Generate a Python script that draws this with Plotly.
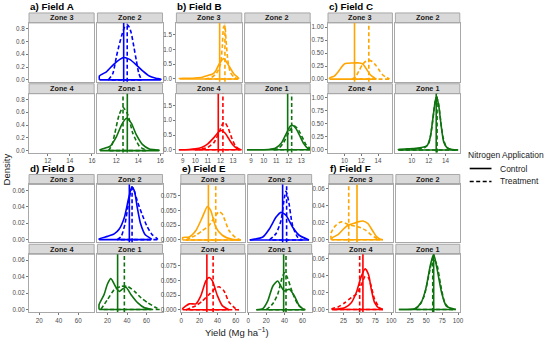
import plotly.graph_objects as go

W, H = 550, 342

# ------------------------------------------------------------------ data
ZONES = ["Zone 3", "Zone 2", "Zone 4", "Zone 1"]          # facet order: TL, TR, BL, BR
ZONE_COLORS = ["#FFA500", "#0000FF", "#FF0000", "#0E720E"]
FIELD_TITLES = ["a) Field A", "b) Field B", "c) Field C", "d) Field D", "e) Field E", "f) Field F"]
LEGEND_TITLE = "Nitrogen Application"
LEGEND_NAMES = ["Control", "Treatment"]

# Field A
A2_C_x = [10.48, 11.14, 11.73, 12.33, 12.68, 13.22, 13.82, 14.4, 15.0, 15.6, 16.05]
A2_C_y = [0.06, 0.13, 0.235, 0.32, 0.35, 0.32, 0.235, 0.14, 0.06, 0.026, 0.01]
A2_T_x = [11.3, 11.7, 12.03, 12.25, 12.48, 12.75, 13.0, 13.2, 13.37, 13.6, 13.82, 14.05, 14.3]
A2_T_y = [0.0, 0.1, 0.37, 0.53, 0.68, 0.82, 0.86, 0.82, 0.73, 0.52, 0.31, 0.1, 0.0]
A1_C_x = [10.54, 11.43, 12.03, 12.48, 12.93, 13.37, 13.82, 14.4, 15.0, 15.9]
A1_C_y = [0.015, 0.067, 0.22, 0.40, 0.506, 0.43, 0.25, 0.093, 0.026, 0.005]
A1_T_x = [11.3, 11.6, 11.88, 12.26, 12.62, 13.07, 13.51, 14.11, 14.71]
A1_T_y = [0.0, 0.08, 0.27, 0.557, 0.676, 0.557, 0.27, 0.067, 0.005]
A_mean_C = [None, 12.68, None, 13.01]
A_mean_T = [None, 13.0, None, 12.62]

# Field B
B3_C_x = [8.74, 9.5, 10.0, 10.56, 11.0, 11.35, 11.6, 11.89, 12.26, 12.68, 13.07, 13.44]
B3_C_y = [0.02, 0.025, 0.035, 0.06, 0.12, 0.16, 0.25, 0.5, 0.69, 0.44, 0.17, 0.03]
B3_T_x = [10.8, 11.3, 11.7, 12.0, 12.15, 12.25, 12.35, 12.45, 12.6, 12.8, 13.1, 13.4]
B3_T_y = [0.0, 0.05, 0.2, 0.5, 1.1, 1.75, 1.82, 1.3, 0.6, 0.22, 0.05, 0.0]
B4_C_x = [8.7, 9.5, 10.0, 10.5, 11.0, 11.5, 11.9, 12.1, 12.4, 12.7, 13.0, 13.3, 13.6]
B4_C_y = [0.0, 0.01, 0.03, 0.08, 0.2, 0.42, 0.62, 0.65, 0.55, 0.35, 0.16, 0.05, 0.01]
B4_T_x = [10.0, 10.5, 11.0, 11.5, 11.9, 12.2, 12.35, 12.6, 12.9, 13.2, 13.5, 13.7]
B4_T_y = [0.0, 0.02, 0.08, 0.25, 0.6, 0.9, 0.93, 0.75, 0.4, 0.12, 0.02, 0.0]
B1_C_x = [8.68, 10.4, 10.93, 11.45, 11.8, 12.12, 12.3, 12.6, 12.9, 13.2, 13.5, 13.7]
B1_C_y = [0.0, 0.01, 0.05, 0.25, 0.55, 0.8, 0.83, 0.7, 0.45, 0.2, 0.05, 0.02]
B1_T_x = [10.8, 11.2, 11.6, 12.0, 12.3, 12.5, 12.8, 13.1, 13.4, 13.7]
B1_T_y = [0.0, 0.05, 0.25, 0.6, 0.78, 0.8, 0.65, 0.4, 0.15, 0.05]
B_mean_C = [11.94, None, 11.83, 11.91]
B_mean_T = [12.36, None, 12.2, 12.23]

# Field C
C3_C_x = [8.24, 8.8, 9.3, 9.8, 10.1, 10.98, 11.8, 12.2, 12.6, 13.1, 13.6, 13.8]
C3_C_y = [0.02, 0.06, 0.15, 0.26, 0.3, 0.31, 0.31, 0.29, 0.2, 0.08, 0.02, 0.0]
C3_T_x = [10.9, 11.3, 11.7, 12.1, 12.5, 12.9, 13.3, 13.7, 14.1, 14.5, 14.9, 15.3]
C3_T_y = [0.0, 0.04, 0.15, 0.27, 0.34, 0.36, 0.34, 0.27, 0.18, 0.09, 0.04, 0.01]
C1_C_x = [8.4, 9.5, 10.5, 11.3, 11.8, 12.2, 12.5, 12.8, 12.95, 13.2, 13.5, 13.8, 14.2, 14.8, 15.5]
C1_C_y = [0.01, 0.02, 0.03, 0.05, 0.08, 0.25, 0.6, 0.95, 1.02, 0.85, 0.45, 0.15, 0.04, 0.01, 0.0]
C1_T_x = [8.4, 9.5, 10.5, 11.5, 12.0, 12.4, 12.7, 12.9, 13.1, 13.4, 13.7, 14.1, 14.6, 15.2]
C1_T_y = [0.0, 0.01, 0.02, 0.04, 0.12, 0.45, 0.85, 1.0, 0.95, 0.6, 0.25, 0.06, 0.01, 0.0]
C_mean_C = [11.2, None, None, 12.9]
C_mean_T = [12.9, None, None, 13.0]

# Field D
D2_C_x = [11.3, 19.9, 26.8, 32.0, 37.2, 41.7, 44.8, 47.6, 50.3, 53.7, 58.6, 64.8]
D2_C_y = [0.0008, 0.004, 0.007, 0.013, 0.027, 0.051, 0.064, 0.059, 0.04, 0.02, 0.006, 0.001]
D2_T_x = [30, 34, 38, 41.5, 44, 46, 48.5, 51, 55.3, 60.5, 65.7, 71]
D2_T_y = [0.0, 0.004, 0.02, 0.045, 0.06, 0.063, 0.055, 0.045, 0.031, 0.016, 0.006, 0.001]
D1_C_x = [11.3, 16.4, 19.9, 23.4, 28.6, 32.0, 35.5, 38.9, 44.1, 51.0, 57.9, 64.8]
D1_C_y = [0.006, 0.018, 0.031, 0.0375, 0.027, 0.022, 0.025, 0.027, 0.018, 0.008, 0.002, 0.0003]
D1_T_x = [13.1, 19.9, 26.8, 33.7, 40.7, 47.6, 54.5, 61.4, 68.3, 73.4]
D1_T_y = [0.0, 0.012, 0.024, 0.028, 0.028, 0.022, 0.014, 0.008, 0.003, 0.0]
D_mean_C = [None, 42.3, None, 30.3]
D_mean_T = [None, 45.1, None, 37.2]

# Field E
E3_C_x = [1.5, 8.8, 16.1, 23.3, 28.8, 32.5, 38.0, 45.2, 56.2, 65.4]
E3_C_y = [0.004, 0.005, 0.016, 0.039, 0.057, 0.05, 0.022, 0.008, 0.001, 0.0]
E3_T_x = [5.2, 16.0, 23.3, 30.7, 38.0, 41.6, 45.2, 52.6, 59.9, 65.4]
E3_T_y = [0.0, 0.008, 0.016, 0.025, 0.042, 0.048, 0.044, 0.016, 0.004, 0.0]
E2_C_x = [1.7, 16.2, 23.5, 30.8, 36.2, 41.7, 48.9, 56.2, 67.1]
E2_C_y = [0.0, 0.005, 0.019, 0.039, 0.047, 0.042, 0.022, 0.008, 0.0]
E2_T_x = [23.5, 30.8, 36.2, 39.9, 41.7, 44.5, 48.9, 54.4, 59.8]
E2_T_y = [0.0, 0.011, 0.033, 0.072, 0.083, 0.067, 0.025, 0.005, 0.0]
E4_C_x = [1.5, 8.8, 16.1, 21.6, 27.1, 30.7, 34.3, 39.8, 45.2, 52.6]
E4_C_y = [0.002, 0.01, 0.01, 0.024, 0.049, 0.055, 0.049, 0.024, 0.007, 0.0]
E4_T_x = [5.2, 16.1, 23.3, 30.7, 38.0, 41.6, 47.1, 52.6, 59.9, 63.5]
E4_T_y = [0.0, 0.007, 0.015, 0.026, 0.037, 0.039, 0.032, 0.013, 0.002, 0.0]
E1_C_x = [9.0, 16.2, 21.6, 27.1, 32.5, 36.2, 39.9, 45.3, 50.8, 56.2, 61.7]
E1_C_y = [0.0, 0.002, 0.015, 0.04, 0.049, 0.04, 0.032, 0.035, 0.024, 0.007, 0.0]
E1_T_x = [19.9, 27.1, 32.5, 37.3, 39.9, 43.4, 48.9, 54.4, 59.8, 63.0]
E1_T_y = [0.0, 0.01, 0.026, 0.054, 0.063, 0.054, 0.029, 0.01, 0.002, 0.0]
E_mean_C = [29.9, 38.0, 28.2, 39.1]
E_mean_T = [38.0, 42.4, 35.1, 41.7]

# Field F
F3_C_x = [7.1, 16.5, 24.3, 32.2, 40, 47.8, 55.6, 63.5, 71.3, 76.5, 81.8, 87]
F3_C_y = [0.002, 0.006, 0.012, 0.017, 0.019, 0.021, 0.022, 0.019, 0.01, 0.004, 0.001, 0.0]
F3_T_x = [5.6, 11.8, 18.1, 22.8, 29, 36.9, 44.7, 52.5, 60.3, 68.2, 76, 82.2]
F3_T_y = [0.008, 0.016, 0.02, 0.021, 0.019, 0.017, 0.016, 0.014, 0.011, 0.006, 0.002, 0.0]
F4_C_x = [7, 16.5, 27, 37.3, 45.2, 53, 59.2, 64.5, 68.7, 74, 81.8, 87]
F4_C_y = [0.0, 0.0005, 0.002, 0.008, 0.02, 0.039, 0.048, 0.041, 0.024, 0.008, 0.001, 0.0]
F4_T_x = [7, 16.5, 27, 37.3, 45.2, 53, 59.2, 64.5, 68.7, 74, 81.8, 87]
F4_T_y = [0.001, 0.003, 0.008, 0.014, 0.018, 0.029, 0.039, 0.037, 0.027, 0.012, 0.002, 0.0]
F1_C_x = [7, 31.9, 41.8, 49.2, 56.7, 61.7, 66.7, 74.1, 81.6, 96.5]
F1_C_y = [0.0, 0.001, 0.008, 0.024, 0.053, 0.065, 0.049, 0.02, 0.004, 0.0]
F1_T_x = [33, 40.2, 46.8, 54.3, 60.7, 66.7, 72.6, 79.1, 86.6, 92]
F1_T_y = [0.0, 0.006, 0.016, 0.041, 0.061, 0.053, 0.029, 0.008, 0.001, 0.0]
F_mean_C = [46.3, None, 55.6, 61.7]
F_mean_T = [33.3, None, 50.5, 60.2]

# tick values / labels
A_xticks = [12, 14, 16]
A_yticks = [0.0, 0.2, 0.4, 0.6, 0.8]
A_ylabels = ["0.0", "0.2", "0.4", "0.6", "0.8"]
B_xticks = [9, 10, 11, 12, 13]
B_yticks = [0.0, 0.5, 1.0, 1.5]
B_ylabels = ["0.0", "0.5", "1.0", "1.5"]
C_xticks = [10, 12, 14]
C_yticks = [0.0, 0.25, 0.5, 0.75, 1.0]
C_ylabels = ["0.00", "0.25", "0.50", "0.75", "1.00"]
D_xticks = [20, 40, 60]
D_yticks = [0.0, 0.02, 0.04, 0.06]
D_ylabels = ["0.00", "0.02", "0.04", "0.06"]
E_xticks = [0, 20, 40, 60]
E_yticks = [0.0, 0.025, 0.05, 0.075]
E_ylabels = ["0.000", "0.025", "0.050", "0.075"]
F_xticks = [25, 50, 75, 100]
F_yticks = [0.0, 0.02, 0.04, 0.06]
F_ylabels = ["0.00", "0.02", "0.04", "0.06"]

# ------------------------------------------------------------------ structure
fields = [
    dict(curves=[None, (A2_C_x, A2_C_y, A2_T_x, A2_T_y), None, (A1_C_x, A1_C_y, A1_T_x, A1_T_y)],
         mc=A_mean_C, mt=A_mean_T, xt=A_xticks, yt=A_yticks, yl=A_ylabels,
         xl=(28.3, 94), xr=(97.3, 163), row=0, xrange=(10.3, 16.2), yrange=(-0.03, 0.89)),
    dict(curves=[(B3_C_x, B3_C_y, B3_T_x, B3_T_y), None, (B4_C_x, B4_C_y, B4_T_x, B4_T_y), (B1_C_x, B1_C_y, B1_T_x, B1_T_y)],
         mc=B_mean_C, mt=B_mean_T, xt=B_xticks, yt=B_yticks, yl=B_ylabels,
         xl=(177, 243), xr=(246, 312), row=0, xrange=(8.5, 13.7), yrange=(-0.095, 1.9)),
    dict(curves=[(C3_C_x, C3_C_y, C3_T_x, C3_T_y), None, None, (C1_C_x, C1_C_y, C1_T_x, C1_T_y)],
         mc=C_mean_C, mt=C_mean_T, xt=C_xticks, yt=C_yticks, yl=C_ylabels,
         xl=(330, 395), xr=(398, 463), row=0, xrange=(8.05, 15.7), yrange=(-0.05, 1.08)),
    dict(curves=[None, (D2_C_x, D2_C_y, D2_T_x, D2_T_y), None, (D1_C_x, D1_C_y, D1_T_x, D1_T_y)],
         mc=D_mean_C, mt=D_mean_T, xt=D_xticks, yt=D_yticks, yl=D_ylabels,
         xl=(28.3, 94), xr=(97.3, 163), row=1, xrange=(9.6, 76.3), yrange=(-0.0032, 0.0672)),
    dict(curves=[(E3_C_x, E3_C_y, E3_T_x, E3_T_y), (E2_C_x, E2_C_y, E2_T_x, E2_T_y),
                 (E4_C_x, E4_C_y, E4_T_x, E4_T_y), (E1_C_x, E1_C_y, E1_T_x, E1_T_y)],
         mc=E_mean_C, mt=E_mean_T, xt=E_xticks, yt=E_yticks, yl=E_ylabels,
         xl=(181.5, 246), xr=(249, 313.5), row=1, xrange=(-0.5, 70), yrange=(-0.004, 0.0945)),
    dict(curves=[(F3_C_x, F3_C_y, F3_T_x, F3_T_y), None, (F4_C_x, F4_C_y, F4_T_x, F4_T_y), (F1_C_x, F1_C_y, F1_T_x, F1_T_y)],
         mc=F_mean_C, mt=F_mean_T, xt=F_xticks, yt=F_yticks, yl=F_ylabels,
         xl=(331, 395.5), xr=(398.5, 463), row=1, xrange=(2.3, 102.7), yrange=(-0.003, 0.065)),
]
rows = [
    dict(strips=[(13, 23), (84, 94)], panels=[(23, 82), (94, 153)], title_y=6.5),
    dict(strips=[(175, 185), (245, 255)], panels=[(185, 243), (255, 313)], title_y=168.5),
]

FONT = "Liberation Sans, Arial, sans-serif"
TICK_FONT = dict(family=FONT, size=6.3, color="#4D4D4D")
BORDER = "#A8A8A8"
LW = 1.6
DASH = "4px,2.5px"

fig = go.Figure()
layout = {}
shapes = []
annotations = []


def outline(xs, ys):
    """closed density outline: vertical edges + baseline (like geom_density)"""
    px = list(xs)
    py = list(ys)
    if py[0] != 0:
        px = [xs[0]] + px
        py = [0] + py
    if py[-1] != 0:
        px = px + [xs[-1]]
        py = py + [0]
    return px + [None, xs[-1], xs[0]], py + [None, 0, 0]


n = 0
for f_i, f in enumerate(fields):
    r = rows[f["row"]]
    for p in range(4):
        n += 1
        sx = "" if n == 1 else str(n)
        col = p % 2
        rr = p // 2
        xpx = f["xl"] if col == 0 else f["xr"]
        ypx = r["panels"][rr]
        spx = r["strips"][rr]
        layout["xaxis" + sx] = dict(
            domain=[xpx[0] / W, xpx[1] / W], range=list(f["xrange"]), anchor="y" + sx,
            showline=True, mirror=True, linecolor=BORDER, linewidth=1,
            showgrid=False, zeroline=False,
            ticks="outside" if rr == 1 else "", ticklen=2, tickcolor="#555555", tickwidth=0.8,
            showticklabels=(rr == 1), tickvals=f["xt"], tickfont=TICK_FONT, fixedrange=True)
        layout["yaxis" + sx] = dict(
            domain=[1 - ypx[1] / H, 1 - ypx[0] / H], range=list(f["yrange"]), anchor="x" + sx,
            showline=True, mirror=True, linecolor=BORDER, linewidth=1,
            showgrid=False, zeroline=False,
            ticks="outside" if col == 0 else "", ticklen=2, tickcolor="#555555", tickwidth=0.8,
            showticklabels=(col == 0), tickvals=f["yt"], ticktext=f["yl"], tickfont=TICK_FONT,
            fixedrange=True)
        # strip
        shapes.append(dict(type="rect", xref="paper", yref="paper",
                           x0=xpx[0] / W, x1=xpx[1] / W, y0=1 - spx[1] / H, y1=1 - spx[0] / H,
                           fillcolor="#D9D9D9", line=dict(color=BORDER, width=1), layer="below"))
        annotations.append(dict(xref="paper", yref="paper", x=(xpx[0] + xpx[1]) / 2 / W,
                                y=1 - (spx[0] + spx[1]) / 2 / H, text="<b>" + ZONES[p] + "</b>",
                                showarrow=False, font=dict(family=FONT, size=7.3, color="#1A1A1A"),
                                xanchor="center", yanchor="middle"))
        cur = f["curves"][p]
        color = ZONE_COLORS[p]
        if cur is None:
            # empty facet: an empty trace so the panel frame and axes are drawn
            fig.add_trace(go.Scatter(x=[None], y=[None], mode="lines", xaxis="x" + sx, yaxis="y" + sx,
                                     showlegend=False, hoverinfo="skip"))
        else:
            cx, cy, tx, ty = cur
            for xs, ys, dash in ((cx, cy, "solid"), (tx, ty, DASH)):
                ox, oy = outline(xs, ys)
                fig.add_trace(go.Scatter(x=ox, y=oy, mode="lines", xaxis="x" + sx, yaxis="y" + sx,
                                         line=dict(color=color, width=LW, dash=dash, shape="spline",
                                                   smoothing=0.6),
                                         showlegend=False, hoverinfo="skip"))
            for m, dash in ((f["mc"][p], "solid"), (f["mt"][p], DASH)):
                if m is not None:
                    shapes.append(dict(type="line", xref="x" + sx, yref="y" + sx + " domain",
                                       x0=m, x1=m, y0=0, y1=1,
                                       line=dict(color=color, width=LW, dash=dash)))
    annotations.append(dict(xref="paper", yref="paper", x=(f["xl"][0] - 1) / W, y=1 - r["title_y"] / H,
                            text="<b>" + FIELD_TITLES[f_i] + "</b>", showarrow=False,
                            font=dict(family=FONT, size=9.8, color="#000000"),
                            xanchor="left", yanchor="middle"))

# legend (drawn as a ggplot-style key)
annotations.append(dict(xref="paper", yref="paper", x=469 / W, y=1 - 155 / H, text=LEGEND_TITLE,
                        showarrow=False, font=dict(family=FONT, size=8.5, color="#1A1A1A"),
                        xanchor="left", yanchor="middle"))
for i, (name, dash) in enumerate(zip(LEGEND_NAMES, ["solid", DASH])):
    ky = 169 + 13 * i
    shapes.append(dict(type="line", xref="paper", yref="paper", x0=473 / W, x1=495 / W,
                       y0=1 - ky / H, y1=1 - ky / H, line=dict(color="#000000", width=LW, dash=dash)))
    annotations.append(dict(xref="paper", yref="paper", x=502 / W, y=1 - ky / H, text=name,
                            showarrow=False, font=dict(family=FONT, size=8.5, color="#1A1A1A"),
                            xanchor="left", yanchor="middle"))

annotations.append(dict(xref="paper", yref="paper", x=6 / W, y=1 - 170 / H, text="Density",
                        textangle=-90, showarrow=False, font=dict(family=FONT, size=9.5, color="#1A1A1A"),
                        xanchor="center", yanchor="middle"))
annotations.append(dict(xref="paper", yref="paper", x=238 / W, y=1 - 341 / H,
                        text="Yield (Mg ha<sup>−1</sup>)", showarrow=False,
                        font=dict(family=FONT, size=9.5, color="#1A1A1A"),
                        xanchor="center", yanchor="bottom"))

layout.update(dict(
    width=W, height=H, margin=dict(l=0, r=0, t=0, b=0),
    paper_bgcolor="white", plot_bgcolor="white",
    shapes=shapes, annotations=annotations,
    showlegend=False,
))
fig.update_layout(**layout)
fig.write_html("out.html", config={"displayModeBar": False, "staticPlot": True},
               post_script="document.body.style.margin='0';document.body.style.padding='0';"
                           "document.body.style.overflow='hidden';")
